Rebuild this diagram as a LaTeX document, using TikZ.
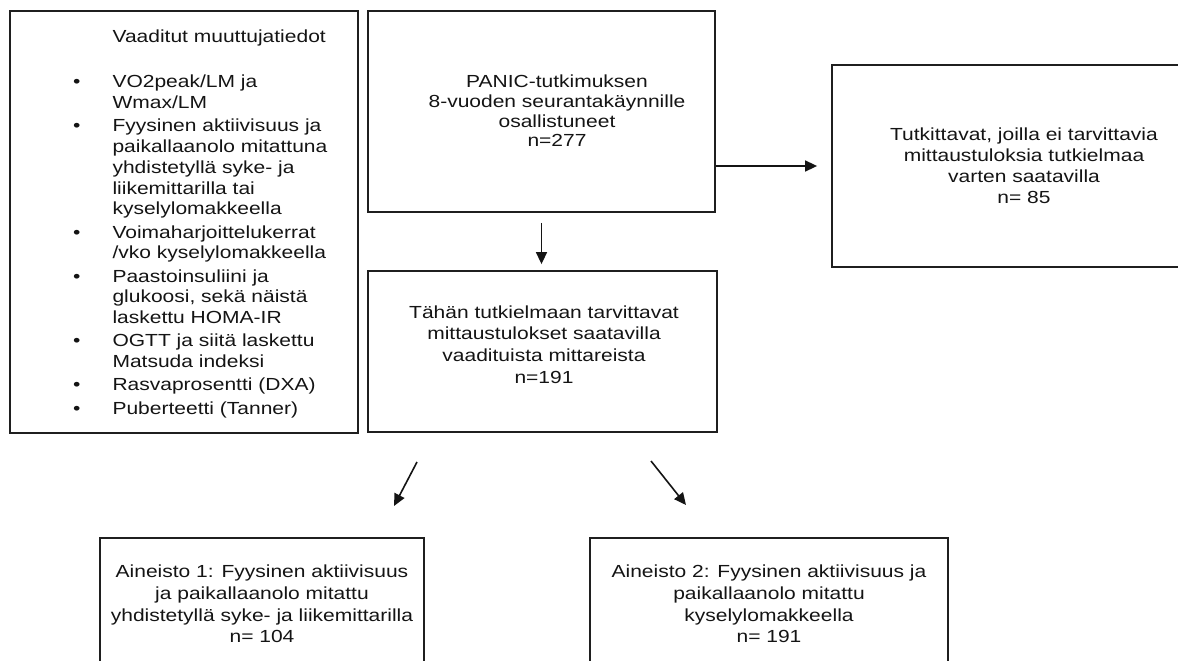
\documentclass[tikz,border=0pt]{standalone}
\usepackage{fontspec}
\setmainfont{Liberation Sans}[FakeStretch=1.2]
\usetikzlibrary{arrows.meta}
\begin{document}
\begin{tikzpicture}[x=1pt,y=-1pt,
  box/.style={draw=black!88,line width=1.8pt,inner sep=0pt},
  txt/.style={align=center,inner sep=0pt,text=black!92,font=\fontsize{17.5}{21}\selectfont},
  arr/.style={draw=black!92,line width=1.6pt,-{Triangle[length=12pt,width=11pt]}}]
\useasboundingbox (0,0) rectangle (1178,661);
\clip (0,0) rectangle (1178,661);
% boxes
\node[box,minimum width=348,minimum height=422] (req) at (184,222) {};
\node[box,minimum width=347,minimum height=201] (top) at (541.5,111.5) {};
\node[box,minimum width=384,minimum height=202] (right) at (1024,166) {};
\node[box,minimum width=349,minimum height=161] (mid) at (542.5,351.5) {};
\node[box,minimum width=324,minimum height=132] (b1) at (262,604) {};
\node[box,minimum width=358,minimum height=132] (b2) at (769,604) {};
% texts
\node[txt,anchor=base west,align=left,font=\fontsize{17.5}{20.7}\selectfont] (reqtext) at (73,43) {%
\begin{tabular}[t]{@{}l@{\hspace{32pt}}l@{}}
 & Vaaditut muuttujatiedot\\[24.3pt]
\textbullet & VO2peak/LM ja\\
 & Wmax/LM\\[2.6pt]
\textbullet & Fyysinen aktiivisuus ja\\
 & paikallaanolo mitattuna\\
 & yhdistetyllä syke- ja\\
 & liikemittarilla tai\\
 & kyselylomakkeella\\[2.6pt]
\textbullet & Voimaharjoittelukerrat\\
 & /vko kyselylomakkeella\\[2.6pt]
\textbullet & Paastoinsuliini ja\\
 & glukoosi, sekä näistä\\
 & laskettu HOMA-IR\\[2.6pt]
\textbullet & OGTT ja siitä laskettu\\
 & Matsuda indeksi\\[2.6pt]
\textbullet & Rasvaprosentti (DXA)\\[2.6pt]
\textbullet & Puberteetti (Tanner)
\end{tabular}};
\node[txt,font=\fontsize{17.5}{19.7}\selectfont] (toptext) at (557,111) {PANIC-tutkimuksen\\8-vuoden seurantakäynnille\\osallistuneet\\n=277};
\node[txt] (righttext) at (1024,166) {Tutkittavat, joilla ei tarvittavia\\mittaustuloksia tutkielmaa\\varten saatavilla\\n= 85};
\node[txt,font=\fontsize{17.5}{21.7}\selectfont] (midtext) at (544,344.5) {Tähän tutkielmaan tarvittavat\\mittaustulokset saatavilla\\vaadituista mittareista\\n=191};
\node[txt,font=\fontsize{17.5}{21.7}\selectfont] (b1text) at (262,604) {Aineisto 1: Fyysinen aktiivisuus\\ja paikallaanolo mitattu\\yhdistetyllä syke- ja liikemittarilla\\n= 104};
\node[txt,font=\fontsize{17.5}{21.7}\selectfont] (b2text) at (769,604) {Aineisto 2: Fyysinen aktiivisuus ja\\paikallaanolo mitattu\\kyselylomakkeella\\n= 191};
% connectors
\draw[arr,shorten >=14pt] (top.east |- right.west) -- (right.west);
\draw[arr,shorten <=10pt,shorten >=6pt] (top.south) -- (top.south |- mid.north);
\coordinate (a1s) at (417,462);
\coordinate (a1e) at (394,506);
\coordinate (a2s) at (651,461);
\coordinate (a2e) at (686,505);
\draw[arr] (a1s) -- (a1e);
\draw[arr] (a2s) -- (a2e);
\end{tikzpicture}
\end{document}
